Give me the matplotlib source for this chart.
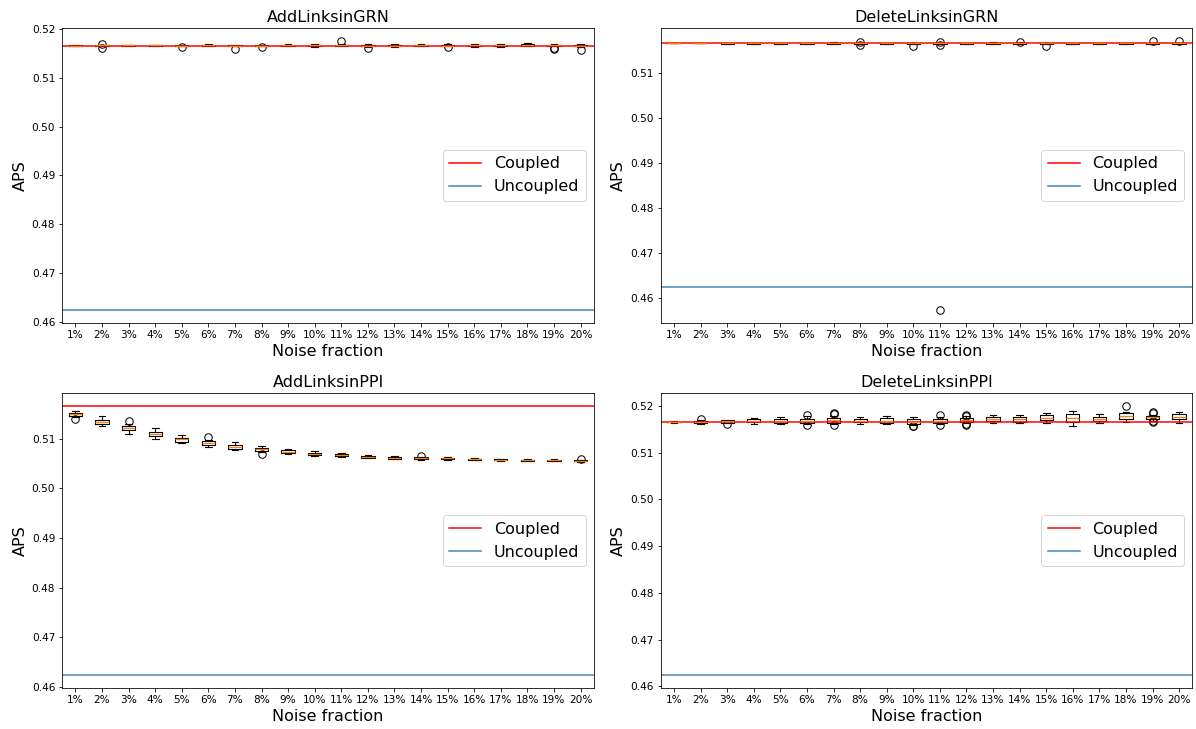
import matplotlib
matplotlib.use("Agg")
import matplotlib.pyplot as plt

noise_labels = ["%d%%" % i for i in range(1, 21)]
coupled = 0.5165
uncoupled = 0.4625

# AddLinksinGRN
add_grn_q1 = [0.51658, 0.51655, 0.51658, 0.51658, 0.51652, 0.51660, 0.51650, 0.51650, 0.51655, 0.51655,
              0.51660, 0.51645, 0.51645, 0.51655, 0.51650, 0.51650, 0.51648, 0.51660, 0.51655, 0.51645]
add_grn_med = [0.51660, 0.51662, 0.51664, 0.51664, 0.51660, 0.51668, 0.51658, 0.51658, 0.51666, 0.51668,
               0.51668, 0.51655, 0.51660, 0.51668, 0.51660, 0.51665, 0.51662, 0.51675, 0.51665, 0.51658]
add_grn_q3 = [0.51662, 0.51668, 0.51668, 0.51670, 0.51666, 0.51674, 0.51665, 0.51664, 0.51674, 0.51676,
              0.51675, 0.51662, 0.51668, 0.51678, 0.51670, 0.51675, 0.51672, 0.51685, 0.51678, 0.51670]
add_grn_lo = [0.51656, 0.51650, 0.51652, 0.51650, 0.51645, 0.51650, 0.51640, 0.51640, 0.51640, 0.51630,
              0.51650, 0.51630, 0.51620, 0.51640, 0.51640, 0.51630, 0.51630, 0.51640, 0.51640, 0.51630]
add_grn_hi = [0.51664, 0.51672, 0.51674, 0.51676, 0.51672, 0.51682, 0.51672, 0.51672, 0.51685, 0.51690,
              0.51690, 0.51690, 0.51690, 0.51690, 0.51685, 0.51695, 0.51690, 0.51705, 0.51690, 0.51690]
add_grn_fliers = [[], [0.5170, 0.5161], [], [], [0.5162], [], [0.5158], [0.5162], [], [],
                  [0.5175], [0.5161], [], [], [0.5162], [], [], [], [0.5160, 0.5159], [0.5157]]

# DeleteLinksinGRN
del_grn_q1 = [0.51650, 0.51650, 0.51645, 0.51645, 0.51645, 0.51645, 0.51645, 0.51642, 0.51644, 0.51640,
              0.51642, 0.51644, 0.51645, 0.51642, 0.51640, 0.51643, 0.51643, 0.51643, 0.51640, 0.51640]
del_grn_med = [0.51650, 0.51650, 0.51652, 0.51652, 0.51652, 0.51652, 0.51654, 0.51650, 0.51652, 0.51650,
               0.51650, 0.51652, 0.51655, 0.51652, 0.51648, 0.51652, 0.51650, 0.51650, 0.51648, 0.51650]
del_grn_q3 = [0.51650, 0.51650, 0.51658, 0.51658, 0.51658, 0.51658, 0.51662, 0.51658, 0.51660, 0.51660,
              0.51658, 0.51660, 0.51664, 0.51662, 0.51656, 0.51660, 0.51658, 0.51658, 0.51656, 0.51660]
del_grn_lo = [0.51650, 0.51650, 0.51638, 0.51638, 0.51638, 0.51638, 0.51636, 0.51634, 0.51636, 0.51630,
              0.51634, 0.51636, 0.51632, 0.51630, 0.51632, 0.51632, 0.51630, 0.51630, 0.51628, 0.51626]
del_grn_hi = [0.51650, 0.51650, 0.51664, 0.51664, 0.51664, 0.51664, 0.51670, 0.51664, 0.51666, 0.51666,
              0.51664, 0.51666, 0.51672, 0.51670, 0.51664, 0.51668, 0.51666, 0.51668, 0.51664, 0.51668]
del_grn_fliers = [[], [], [], [], [], [], [], [0.5168, 0.5161], [], [0.5160],
                  [0.5168, 0.5161, 0.4575], [], [], [0.5169], [0.5159], [], [], [], [0.5170], [0.5170]]

# AddLinksinPPI
add_ppi_q1 = [0.5146, 0.5130, 0.5118, 0.5105, 0.5094, 0.5088, 0.5080, 0.5076, 0.5072, 0.5067,
              0.5065, 0.5062, 0.5060, 0.5059, 0.5059, 0.5058, 0.5057, 0.5056, 0.5056, 0.5055]
add_ppi_med = [0.5149, 0.5134, 0.5122, 0.5109, 0.5099, 0.5092, 0.5084, 0.5079, 0.5074, 0.5070,
               0.5068, 0.5064, 0.5062, 0.5061, 0.5061, 0.5059, 0.5058, 0.5057, 0.5057, 0.5056]
add_ppi_q3 = [0.5151, 0.5137, 0.5126, 0.5113, 0.5102, 0.5095, 0.5087, 0.5081, 0.5077, 0.5072,
              0.5070, 0.5066, 0.5064, 0.5063, 0.5062, 0.5060, 0.5059, 0.5058, 0.5058, 0.5057]
add_ppi_lo = [0.5143, 0.5126, 0.5109, 0.5099, 0.5091, 0.5083, 0.5077, 0.5073, 0.5069, 0.5065,
              0.5063, 0.5061, 0.5059, 0.5058, 0.5058, 0.5057, 0.5056, 0.5055, 0.5055, 0.5054]
add_ppi_hi = [0.5155, 0.5145, 0.5129, 0.5121, 0.5108, 0.5097, 0.5093, 0.5085, 0.5080, 0.5075,
              0.5072, 0.5068, 0.5066, 0.5064, 0.5064, 0.5061, 0.5060, 0.5059, 0.5059, 0.5058]
add_ppi_fliers = [[0.5140], [], [0.5135], [], [], [0.5103], [], [0.5070], [], [],
                  [], [], [], [0.5066], [], [], [], [], [], [0.5060]]

# DeleteLinksinPPI
del_ppi_q1 = [0.51645, 0.5163, 0.5164, 0.5165, 0.5163, 0.5163, 0.5164, 0.5165, 0.5163, 0.5162,
              0.5163, 0.5165, 0.5167, 0.5166, 0.5170, 0.5166, 0.5168, 0.5171, 0.5172, 0.5171]
del_ppi_med = [0.51650, 0.5166, 0.5167, 0.5168, 0.5168, 0.5168, 0.5170, 0.5168, 0.5168, 0.5166,
               0.5168, 0.5170, 0.5173, 0.5171, 0.5175, 0.5174, 0.5173, 0.5179, 0.5176, 0.5177]
del_ppi_q3 = [0.51655, 0.5168, 0.5169, 0.5171, 0.5172, 0.5172, 0.5174, 0.5173, 0.5174, 0.5172,
              0.5173, 0.5174, 0.5177, 0.5176, 0.5180, 0.5182, 0.5177, 0.5185, 0.5178, 0.5183]
del_ppi_lo = [0.5164, 0.5161, 0.5163, 0.5161, 0.5161, 0.5162, 0.5161, 0.5162, 0.5161, 0.5160,
              0.5161, 0.5163, 0.5163, 0.5163, 0.5164, 0.5158, 0.5164, 0.5166, 0.5168, 0.5164]
del_ppi_hi = [0.5167, 0.5170, 0.5170, 0.5174, 0.5176, 0.5178, 0.5178, 0.5177, 0.5179, 0.5176,
              0.5176, 0.5178, 0.5180, 0.5181, 0.5184, 0.5190, 0.5182, 0.5186, 0.5181, 0.5187]
del_ppi_fliers = [[], [0.5173], [0.5162], [], [], [0.5181, 0.5160], [0.5182, 0.5185, 0.5160], [], [], [0.5157, 0.5156],
                  [0.5180, 0.5160], [0.5181, 0.5179, 0.5160, 0.5162], [], [], [], [], [], [0.5199], [0.5187, 0.5185, 0.5167, 0.5165], []]


def make_stats(q1, med, q3, lo, hi, fl):
    out = []
    for i in range(len(med)):
        out.append(dict(q1=q1[i], med=med[i], q3=q3[i], whislo=lo[i], whishi=hi[i],
                        fliers=fl[i], label=noise_labels[i]))
    return out


panels = [
    ("AddLinksinGRN", make_stats(add_grn_q1, add_grn_med, add_grn_q3, add_grn_lo, add_grn_hi, add_grn_fliers)),
    ("DeleteLinksinGRN", make_stats(del_grn_q1, del_grn_med, del_grn_q3, del_grn_lo, del_grn_hi, del_grn_fliers)),
    ("AddLinksinPPI", make_stats(add_ppi_q1, add_ppi_med, add_ppi_q3, add_ppi_lo, add_ppi_hi, add_ppi_fliers)),
    ("DeleteLinksinPPI", make_stats(del_ppi_q1, del_ppi_med, del_ppi_q3, del_ppi_lo, del_ppi_hi, del_ppi_fliers)),
]

fig, axes = plt.subplots(2, 2, figsize=(1196 / 72, 729 / 72), dpi=72)
fig.subplots_adjust(left=0.052, right=0.997, top=0.962, bottom=0.056, wspace=0.126, hspace=0.237)

for ax, (title, stats) in zip(axes.flat, panels):
    ax.bxp(stats, positions=range(1, 21), widths=0.5,
           boxprops=dict(linewidth=1.1), whiskerprops=dict(linewidth=1.1),
           capprops=dict(linewidth=1.1), medianprops=dict(color='C1', linewidth=1.3),
           flierprops=dict(marker='o', markerfacecolor='none', markeredgecolor='black', markersize=7.5))
    ax.axhline(coupled, color='red', label='Coupled')
    ax.axhline(uncoupled, color='steelblue', label='Uncoupled')
    ax.set_title(title, fontsize=16)
    ax.set_xlabel('Noise fraction', fontsize=16)
    ax.set_ylabel('APS', fontsize=16)
    ax.tick_params(labelsize=10.5)
    ax.legend(loc='center right', fontsize=16)

plt.savefig('out.png', dpi=72)
